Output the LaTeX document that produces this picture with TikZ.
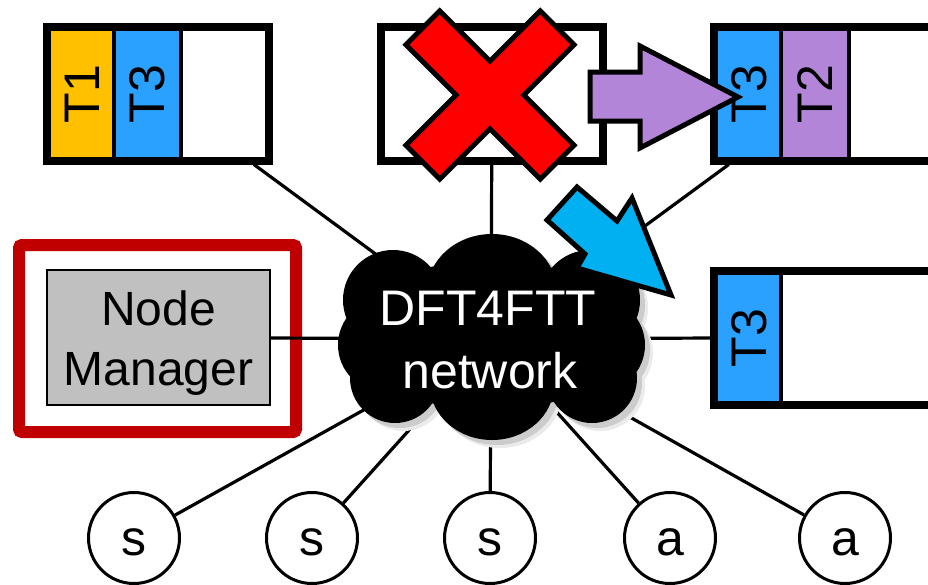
\documentclass[tikz,border=0pt]{standalone}
\usepackage{fontspec}
\setmainfont{Liberation Sans}
\definecolor{tgold}{HTML}{FFC000}
\definecolor{tblue}{HTML}{2AA1FF}
\definecolor{tpurple}{HTML}{B385D8}
\definecolor{arrblue}{HTML}{00B0F0}
\definecolor{framered}{HTML}{C00000}
\definecolor{nmgray}{HTML}{C0C0C0}
\tikzset{
  cloudp/.style={insert path={
    (490,335) ellipse [x radius=140, y radius=75]
    (393,300) circle [radius=50]
    (385,345) circle [radius=47]
    (395,378) circle [radius=45]
    (492,292) ellipse [x radius=65, y radius=58]
    (492,385) ellipse [x radius=62, y radius=55]
    (590,300) circle [radius=50]
    (598,345) circle [radius=47]
    (592,378) circle [radius=45]}},
  bigtxt/.style={font=\fontsize{50}{60}\selectfont},
  nmtxt/.style={font=\fontsize{48}{58}\selectfont},
  tbox/.style={draw, line width=8pt, minimum width=222pt, minimum height=134pt, inner sep=0pt},
  conn/.style={line width=3.2pt},
  sa/.style={circle, draw, line width=3pt, minimum size=91pt, inner sep=0pt, fill=white,
    font=\fontsize{50}{60}\selectfont, text height=35pt, text depth=0pt},
  divider/.style={line width=4pt},
  fatarrow/.style={draw, line width=5pt, line join=miter}
}
\begin{document}
\begin{tikzpicture}[x=1pt,y=-1pt]
\useasboundingbox (0,0) rectangle (928,584);
\clip (0,0) rectangle (928,584);

% ---- top-left buffer
\fill[tgold] (51,30) rectangle (114,157);
\fill[tblue] (114,30) rectangle (181,157);
\draw[divider] (114,28) -- (114,159);
\draw[divider] (181,28) -- (181,159);
\node[tbox] (b1) at (158,93.5) {};
\node[bigtxt, rotate=90] (t1) at (82.5,94) {T1};
\node[bigtxt, rotate=90] (t3a) at (147.5,94) {T3};

% ---- top-middle buffer (failed)
\node[tbox] (b2) at (492,93.5) {};

% ---- top-right buffer
\fill[tblue] (718,30) rectangle (781,157);
\fill[tpurple] (781,30) rectangle (849,157);
\draw[divider] (781,28) -- (781,159);
\draw[divider] (849,28) -- (849,159);
\node[tbox] (b3) at (825,93.5) {};
\node[bigtxt, rotate=90] (t3b) at (749.5,94) {T3};
\node[bigtxt, rotate=90] (t2) at (815,94) {T2};

% ---- bottom-right buffer
\fill[tblue] (718,274) rectangle (781,401);
\draw[divider] (781,272) -- (781,403);
\node[tbox] (b4) at (825,337.5) {};
\node[bigtxt, rotate=90] (t3c) at (749.5,338) {T3};

% ---- node manager
\node[draw=framered, line width=12pt, rounded corners=3pt, minimum width=277pt, minimum height=187pt] (frame) at (157.5,338.5) {};
\node[draw, line width=2pt, fill=nmgray, minimum width=223pt, minimum height=135pt] (nm) at (158.5,337.5) {};
\node[nmtxt, anchor=base] (nm1) at (158.5,325) {Node};
\node[nmtxt, anchor=base] (nm2) at (158.5,385) {Manager};

% ---- sensors / actuators
\node[sa] (c1) at (134,538) {s};
\node[sa] (c2) at (312,538) {s};
\node[sa] (c3) at (490,538) {s};
\node[sa] (c4) at (670,538) {a};
\node[sa] (c5) at (845,538) {a};

% ---- connectors
\coordinate (cloud) at (491,339);
\draw[conn] (cloud) -- (b1);
\draw[conn] (cloud) -- (b2);
\draw[conn] (cloud) -- (b3);
\draw[conn] (cloud) -- (b4);
\draw[conn] (cloud) -- (nm);
\draw[conn] (cloud) -- (c1);
\draw[conn] (cloud) -- (c2);
\draw[conn] (cloud) -- (c3);
\draw[conn] (cloud) -- (c4);
\draw[conn] (cloud) -- (c5);

% ---- cloud with shadow
\begin{scope}[shift={(8,8)}]
  \fill[black!8] [cloudp];
\end{scope}
\begin{scope}[shift={(5,5)}]
  \fill[black!20] [cloudp];
\end{scope}
\fill[black] [cloudp];
\node[bigtxt, text=white, anchor=base] (net1) at (488,325) {DFT4FTT};
\node[bigtxt, text=white, anchor=base] (net2) at (490,388) {network};

% ---- red cross
\begin{scope}[shift={(490,95)}, rotate=45]
  \draw[fatarrow, fill=red] (95,24) -- (24,24) -- (24,95) -- (-24,95) -- (-24,24) -- (-95,24)
    -- (-95,-24) -- (-24,-24) -- (-24,-95) -- (24,-95) -- (24,-24) -- (95,-24) -- cycle;
\end{scope}

% ---- purple arrow
\draw[fatarrow, fill=tpurple] (590,72) -- (640,72) -- (640,46) -- (738,97) -- (640,148)
  -- (640,121) -- (590,121) -- cycle;

% ---- blue arrow
\draw[fatarrow, fill=arrblue] (577,187) -- (547,220) -- (585,254) -- (577,268) -- (671,295)
  -- (632,198) -- (617,221) -- cycle;
\end{tikzpicture}
\end{document}
